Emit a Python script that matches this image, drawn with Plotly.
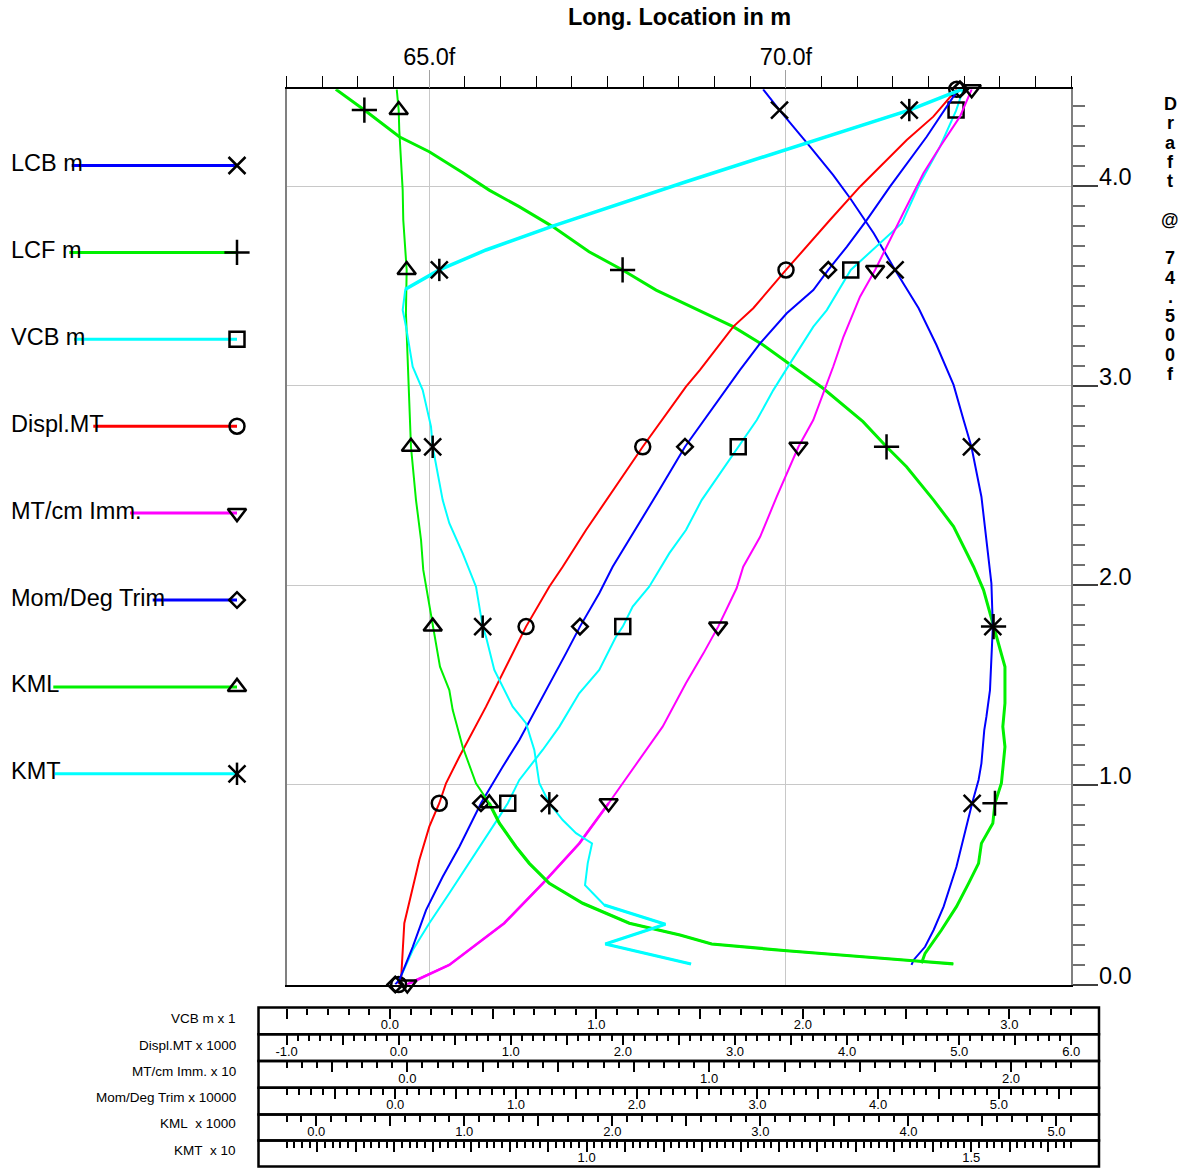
import plotly.graph_objects as go

# ---------------- data ----------------
LCB_D = [4.485, 4.381, 4.197, 4.056, 3.939, 3.764, 3.580, 3.388, 3.204, 3.004, 2.828, 2.694, 2.444, 2.227, 2.010,
         1.793, 1.592, 1.475, 1.342, 1.275, 1.108, 1.025, 0.908, 0.791, 0.590, 0.390, 0.273, 0.189, 0.123, 0.098]
LCB_V = [69.68, 69.91, 70.34, 70.66, 70.90, 71.23, 71.53, 71.86, 72.11, 72.35, 72.49, 72.60, 72.74, 72.81, 72.88,
         72.90, 72.87, 72.86, 72.81, 72.78, 72.74, 72.70, 72.61, 72.53, 72.39, 72.21, 72.07, 71.95, 71.79, 71.76]
LCF_D = [4.485, 4.381, 4.247, 4.172, 4.067, 3.980, 3.897, 3.797, 3.671, 3.580, 3.479, 3.409, 3.296, 3.204, 3.104,
         2.987, 2.820, 2.694, 2.594, 2.427, 2.294, 2.093, 1.976, 1.793, 1.592, 1.409, 1.292, 1.191, 1.008, 0.908,
         0.808, 0.707, 0.607, 0.507, 0.390, 0.273, 0.156, 0.106]
LCF_V = [63.69, 64.09, 64.58, 65.00, 65.47, 65.84, 66.26, 66.73, 67.24, 67.71, 68.18, 68.60, 69.26, 69.68, 70.06,
         70.52, 71.08, 71.41, 71.69, 72.07, 72.35, 72.63, 72.77, 72.91, 73.07, 73.07, 73.04, 73.07, 73.02, 72.93,
         72.90, 72.74, 72.70, 72.56, 72.39, 72.18, 71.95, 71.90]
VCB_D = [4.485, 4.378, 4.197, 4.014, 3.814, 3.663, 3.580, 3.379, 3.296, 3.112, 2.978, 2.828, 2.694, 2.427, 2.277,
         2.160, 1.993, 1.893, 1.793, 1.742, 1.576, 1.459, 1.292, 1.175, 1.025, 0.908, 0.841, 0.607, 0.457, 0.307,
         0.173, 0.023]
VCB_V = [2.777, 2.742, 2.664, 2.567, 2.479, 2.320, 2.232, 2.116, 2.051, 1.938, 1.857, 1.777, 1.687, 1.510, 1.434,
         1.353, 1.256, 1.176, 1.128, 1.095, 1.014, 0.917, 0.821, 0.740, 0.627, 0.571, 0.530, 0.385, 0.288, 0.191,
         0.111, 0.046]
DISPL_D = [4.485, 4.348, 4.231, 4.097, 3.997, 3.830, 3.680, 3.580, 3.388, 3.296, 3.079, 2.995, 2.694, 2.427, 2.277,
           2.093, 1.993, 1.793, 1.659, 1.392, 1.141, 1.008, 0.908, 0.791, 0.624, 0.457, 0.307, 0.023, 0.0]
DISPL_V = [4.978, 4.769, 4.532, 4.293, 4.115, 3.847, 3.609, 3.455, 3.163, 2.985, 2.688, 2.563, 2.177, 1.849, 1.671,
           1.463, 1.343, 1.136, 1.017, 0.779, 0.541, 0.422, 0.362, 0.273, 0.184, 0.110, 0.050, 0.021, 0.0]
MTCM_D = [4.485, 4.348, 4.197, 4.064, 3.864, 3.730, 3.580, 3.446, 3.245, 3.095, 2.962, 2.828, 2.694, 2.444, 2.243,
          2.093, 1.985, 1.793, 1.659, 1.509, 1.292, 0.908, 0.707, 0.507, 0.307, 0.098, 0.023, 0.0]
MTCM_V = [1.870, 1.831, 1.765, 1.710, 1.643, 1.599, 1.550, 1.500, 1.445, 1.411, 1.378, 1.345, 1.296, 1.224, 1.169,
          1.113, 1.091, 1.030, 0.981, 0.923, 0.846, 0.667, 0.570, 0.449, 0.321, 0.139, 0.029, 0.0]
MOM_D = [4.485, 4.448, 4.247, 4.114, 3.997, 3.830, 3.696, 3.580, 3.479, 3.363, 3.212, 3.079, 2.895, 2.694, 2.477,
         2.261, 2.093, 1.960, 1.793, 1.659, 1.409, 1.225, 1.091, 0.908, 0.690, 0.540, 0.373, 0.189, 0.023, 0.0]
MOM_V = [4.678, 4.623, 4.402, 4.237, 4.098, 3.905, 3.740, 3.587, 3.463, 3.243, 3.022, 2.856, 2.635, 2.400, 2.187,
         1.967, 1.801, 1.690, 1.530, 1.414, 1.193, 1.028, 0.890, 0.710, 0.531, 0.393, 0.255, 0.145, 0.034, 0.0]
KML_D = [4.485, 4.381, 4.281, 4.114, 3.980, 3.830, 3.580, 3.363, 3.095, 2.862, 2.694, 2.427, 2.227, 2.077, 1.893,
         1.793, 1.592, 1.475, 1.375, 1.191, 1.008, 0.908, 0.808, 0.690, 0.607, 0.507, 0.407, 0.307, 0.248, 0.203,
         0.169, 0.119, 0.103]
KML_V = [0.544, 0.557, 0.561, 0.573, 0.584, 0.588, 0.611, 0.606, 0.618, 0.633, 0.640, 0.674, 0.708, 0.723, 0.764,
         0.787, 0.836, 0.899, 0.922, 0.989, 1.079, 1.169, 1.237, 1.349, 1.439, 1.574, 1.800, 2.115, 2.457, 2.671,
         3.178, 4.033, 4.303]
KMT_D = [4.485, 4.381, 4.022, 3.800, 3.680, 3.580, 3.483, 3.379, 3.296, 3.095, 2.978, 2.795, 2.694, 2.427, 2.311,
         2.160, 1.993, 1.793, 1.742, 1.576, 1.392, 1.309, 1.175, 1.008, 0.908, 0.824, 0.758, 0.707, 0.607, 0.498,
         0.398, 0.302, 0.203, 0.103]
KMT_V = [1.4876, 1.4194, 1.1292, 0.9559, 0.8692, 0.8085, 0.7643, 0.7609, 0.7652, 0.7739, 0.7869, 0.7977, 0.7999,
         0.8129, 0.8215, 0.8389, 0.8562, 0.8649, 0.8692, 0.8800, 0.9039, 0.9212, 0.9320, 0.9385, 0.9515, 0.9689,
         0.9862, 1.0070, 1.0014, 0.9979, 1.0230, 1.1023, 1.0243, 1.1357]

MK_D_A = [0.908, 1.793, 2.694, 3.580, 4.381]
MK_D_B = [0.0, 0.908, 1.793, 2.694, 3.580, 4.485]
LCB_MK = [72.61, 72.90, 72.60, 71.53, 69.91]
LCF_MK = [72.93, 72.91, 71.41, 67.71, 64.09]
VCB_MK = [0.571, 1.128, 1.687, 2.232, 2.742]
KML_MK = [1.169, 0.787, 0.640, 0.611, 0.557]
KMT_MK = [0.9515, 0.8649, 0.7999, 0.8085, 1.4194]
DISPL_MK = [0.0, 0.362, 1.136, 2.177, 3.455, 4.978]
MTCM_MK = [0.0, 0.667, 1.030, 1.296, 1.550, 1.870]
MOM_MK = [0.0, 0.710, 1.530, 2.400, 3.587, 4.678]

TOP_TICKS = [65.0, 70.0]
TOP_LABELS = ["65.0f", "70.0f"]
DRAFT_TICKS = [0.0, 1.0, 2.0, 3.0, 4.0]
DRAFT_LABELS = ["0.0", "1.0", "2.0", "3.0", "4.0"]
LEGEND_NAMES = ["LCB m", "LCF m", "VCB m", "Displ.MT", "MT/cm Imm.", "Mom/Deg Trim", "KML", "KMT"]
SCALE_NAMES = ["VCB m x 1", "Displ.MT x 1000", "MT/cm Imm. x 10", "Mom/Deg Trim x 10000",
               "KML\u00a0 x 1000", "KMT\u00a0 x 10"]
SCALE_LABELS = [[0.0, 1.0, 2.0, 3.0],
                [-1.0, 0.0, 1.0, 2.0, 3.0, 4.0, 5.0, 6.0],
                [0.0, 1.0, 2.0],
                [0.0, 1.0, 2.0, 3.0, 4.0, 5.0],
                [0.0, 1.0, 2.0, 3.0, 4.0, 5.0],
                [1.0, 1.5]]
TITLE = "Long. Location in m"
SIDE_TEXT = "Draft @ 74.500f"

W, H = 1193, 1168
PL, PR, PT, PB = 286.6, 1071.3, 89.3, 984.5
YTOP = 4.485
XD = [PL / W, PR / W]
YD = [1 - PB / H, 1 - PT / H]
FONT = "Liberation Sans, Arial, Helvetica, sans-serif"
FS = 23.5

SCALE_RANGES = [[-0.5, 3.3], [-1.0, 6.0], [-0.4, 2.2], [-0.9, 5.6], [-0.2, 5.1], [0.61, 1.63]]
SCALE_LONG = [0.5, 0.5, 0.25, 0.5, 0.5, 0.05]
SCALE_MINOR = [0.1, 0.1, 0.05, 0.1, 0.1, 0.01]
ROW_TOPS = [1007.5, 1034.2, 1061.0, 1087.8, 1114.5, 1140.5, 1166.5]
BOX_L, BOX_R = 258.5, 1099.0

fig = go.Figure()
GREEN = "#00f000"


def sel(xs, ys, lo, hi):
    """points whose draft lies in [lo, hi]"""
    pts = [(x, y) for x, y in zip(xs, ys) if lo <= y <= hi]
    return [p[0] for p in pts], [p[1] for p in pts]


series = [
    (LCF_V, LCF_D, "x", GREEN, 3),
    (KML_V, KML_D, "x6", GREEN, 2),
    (LCB_V, LCB_D, "x", "#0000ff", 2),
    (MOM_V, MOM_D, "x5", "#0000ff", 2),
    (VCB_V, VCB_D, "x2", "#00ffff", 2),
    (KMT_V, KMT_D, "x7", "#00ffff", 2),
    (DISPL_V, DISPL_D, "x3", "#ff0000", 2),
    (MTCM_V, MTCM_D, "x4", "#ff00ff", 2),
]
# segments that appear heavier in the reference
heavy = [
    (KML_V, KML_D, "x6", GREEN, 3.2, 0.0, 0.91),
    (KMT_V, KMT_D, "x7", "#00ffff", 3.5, 3.48, 4.5),
    (KMT_V, KMT_D, "x7", "#00ffff", 3.2, 0.0, 0.41),
    (MTCM_V, MTCM_D, "x4", "#ff00ff", 2.6, 0.0, 0.91),
]
for xs, ys, ax, col, wd in series:
    fig.add_trace(go.Scatter(x=xs, y=ys, xaxis=ax, yaxis="y", mode="lines",
                             line=dict(color=col, width=wd), hoverinfo="skip", showlegend=False))
for xs, ys, ax, col, wd, lo, hi in heavy:
    sx, sy = sel(xs, ys, lo, hi)
    fig.add_trace(go.Scatter(x=sx, y=sy, xaxis=ax, yaxis="y", mode="lines",
                             line=dict(color=col, width=wd), hoverinfo="skip", showlegend=False))

MW = 2.5
markers = [
    (LCB_MK, MK_D_A, "x", "x-thin-open", 17),
    (LCF_MK, MK_D_A, "x", "cross-thin-open", 18),
    (VCB_MK, MK_D_A, "x2", "square-open", 15),
    (DISPL_MK, MK_D_B, "x3", "circle-open", 15),
    (MTCM_MK, MK_D_B, "x4", "triangle-down-open", 16),
    (MOM_MK, MK_D_B, "x5", "diamond-open", 12),
    (KML_MK, MK_D_A, "x6", "triangle-up-open", 16),
    (KMT_MK, MK_D_A, "x7", "x-thin-open", 17),
    (KMT_MK, MK_D_A, "x7", "line-ns-open", 16),
]
for xs, ys, ax, sym, sz in markers:
    fig.add_trace(go.Scatter(x=xs, y=ys, xaxis=ax, yaxis="y", mode="markers", cliponaxis=False,
                             marker=dict(symbol=sym, size=sz, color="black", line=dict(color="black", width=MW)),
                             hoverinfo="skip", showlegend=False))

LEG_Y0, LEG_DY = 165.5, 86.9
LEG_XSTART = [71.7, 69.3, 74.0, 93.3, 130.0, 152.7, 53.3, 55.0]
LEG_XEND = 237.0
leg_style = [("#0000ff", [("x-thin-open", 17)]), (GREEN, [("cross-thin-open", 18)]),
             ("#00ffff", [("square-open", 15)]), ("#ff0000", [("circle-open", 15)]),
             ("#ff00ff", [("triangle-down-open", 16)]), ("#0000ff", [("diamond-open", 12)]),
             (GREEN, [("triangle-up-open", 16)]), ("#00ffff", [("x-thin-open", 17), ("line-ns-open", 16)])]
annotations = []
for i, name in enumerate(LEGEND_NAMES):
    ly = LEG_Y0 + i * LEG_DY
    col, syms = leg_style[i]
    fig.add_trace(go.Scatter(x=[LEG_XSTART[i], LEG_XEND], y=[ly, ly], xaxis="x8", yaxis="y2", mode="lines",
                             line=dict(color=col, width=3), hoverinfo="skip", showlegend=False))
    for s, sz in syms:
        fig.add_trace(go.Scatter(x=[LEG_XEND], y=[ly], xaxis="x8", yaxis="y2", mode="markers", cliponaxis=False,
                                 marker=dict(symbol=s, size=sz, color="black", line=dict(color="black", width=MW)),
                                 hoverinfo="skip", showlegend=False))
    annotations.append(dict(x=10 / W, y=1 - (ly - 2.5) / H, xref="paper", yref="paper", text=name,
                            showarrow=False, xanchor="left", yanchor="middle", borderpad=0,
                            font=dict(size=FS, color="black", family=FONT)))

annotations.append(dict(x=679 / W, y=1 - 16.5 / H, xref="paper", yref="paper", text="<b>" + TITLE + "</b>",
                        showarrow=False, xanchor="center", yanchor="middle", borderpad=0,
                        font=dict(size=FS, color="black", family=FONT)))
for i, ch in enumerate(SIDE_TEXT):
    if ch == " ":
        continue
    annotations.append(dict(x=1170 / W, y=1 - (104 + i * 19.29) / H, xref="paper", yref="paper",
                            text="<b>" + ch + "</b>", showarrow=False, xanchor="center", yanchor="middle",
                            borderpad=0, font=dict(size=18, color="black", family=FONT)))

ROW_LABEL_Y = [1018.3, 1045.3, 1071.7, 1097.3, 1123.3, 1150.0]
for i, nm in enumerate(SCALE_NAMES):
    annotations.append(dict(x=237 / W, y=1 - ROW_LABEL_Y[i] / H, xref="paper", yref="paper", text=nm,
                            showarrow=False, xanchor="right", yanchor="middle", borderpad=0,
                            font=dict(size=13.5, color="black", family=FONT)))

shapes = []
for i in range(6):
    shapes.append(dict(type="rect", xref="paper", yref="paper", x0=BOX_L / W, x1=BOX_R / W,
                       y0=1 - ROW_TOPS[i] / H, y1=1 - ROW_TOPS[i + 1] / H,
                       line=dict(color="black", width=2.5), fillcolor="rgba(0,0,0,0)"))

layout = dict(
    width=W, height=H, margin=dict(l=0, r=0, t=0, b=0, pad=0, autoexpand=False), autosize=False,
    paper_bgcolor="white", plot_bgcolor="rgba(0,0,0,0)",
    showlegend=False, font=dict(family=FONT, color="black"),
    annotations=annotations, shapes=shapes,
    xaxis=dict(domain=XD, range=[63, 74], side="top", anchor="y", tickmode="array", automargin=False,
               tickvals=TOP_TICKS, ticktext=TOP_LABELS, ticks="outside", ticklen=18, tickcolor="#a0a0a0",
               tickwidth=1, showgrid=True, gridcolor="#c8c8c8", gridwidth=1, showline=True,
               linecolor="black", linewidth=1.5, mirror=True, zeroline=False, ticklabelstandoff=-5,
               tickfont=dict(size=FS, color="black", family=FONT),
               minor=dict(tickmode="linear", tick0=63, dtick=0.5, ticklen=12, tickcolor="black",
                          tickwidth=1, showgrid=False)),
    yaxis=dict(domain=YD, range=[0, YTOP], side="right", anchor="x", tickmode="array", automargin=False,
               tickvals=DRAFT_TICKS, ticktext=DRAFT_LABELS, ticks="outside", ticklen=25,
               tickcolor="#404040", tickwidth=1.5, showgrid=True, gridcolor="#c8c8c8", gridwidth=1,
               showline=True, linecolor="#808080", linewidth=2, mirror=True, zeroline=False,
               ticklabelshift=-9, ticklabelstandoff=-4, tickfont=dict(size=FS, color="black", family=FONT),
               minor=dict(tickmode="linear", tick0=0, dtick=0.1, ticklen=12, tickcolor="#707070",
                          tickwidth=2, showgrid=False)),
    xaxis8=dict(domain=[0, 1], range=[0, W], anchor="y2", visible=False, fixedrange=True, automargin=False),
    yaxis2=dict(domain=[0, 1], range=[H, 0], anchor="x8", visible=False, fixedrange=True, automargin=False),
)

for i in range(6):
    lo, hi = SCALE_RANGES[i]
    step = SCALE_LONG[i]
    labs = SCALE_LABELS[i]
    n0 = int(round(lo / step)) - 1
    n1 = int(round(hi / step)) + 1
    tv, tt = [], []
    for k in range(n0, n1 + 1):
        v = round(k * step, 6)
        if v < lo - 1e-9 or v > hi + 1e-9:
            continue
        tv.append(v)
        tt.append("%.1f" % v if any(abs(v - l) < 1e-9 for l in labs) else "")
    layout["xaxis%d" % (i + 2)] = dict(
        domain=XD, overlaying="x", anchor="free", position=1 - ROW_TOPS[i] / H, side="bottom",
        range=[lo, hi], tickmode="array", tickvals=tv, ticktext=tt, ticks="outside", ticklen=10,
        tickwidth=1.5, tickcolor="black", showgrid=False, showline=False, zeroline=False, automargin=False,
        tickfont=dict(size=13, color="black", family=FONT), ticklabelstandoff=-5,
        minor=dict(tickmode="linear", tick0=0, dtick=SCALE_MINOR[i], ticklen=6, tickwidth=1.5,
                   tickcolor="black", showgrid=False))

fig.update_layout(**layout)
fig.write_html(
    "out.html",
    config={"displayModeBar": False},
    post_script="document.documentElement.style.margin='0';document.body.style.margin='0';"
                "document.body.style.padding='0';document.documentElement.style.overflow='hidden';"
                "document.body.style.overflow='hidden';",
)
